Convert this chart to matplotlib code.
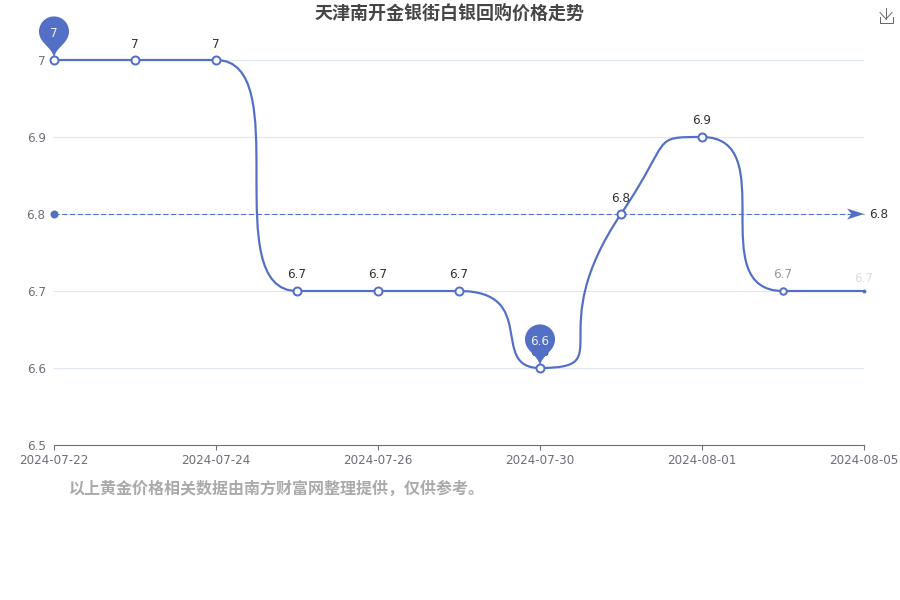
import numpy as np
import matplotlib
matplotlib.use("Agg")
import matplotlib.pyplot as plt
from matplotlib.path import Path
from matplotlib.patches import PathPatch
from matplotlib.lines import Line2D
from matplotlib.transforms import Affine2D, IdentityTransform

title = "天津南开金银街白银回购价格走势"
note = "以上黄金价格相关数据由南方财富网整理提供，仅供参考。"
dates = ["2024-07-22", "2024-07-23", "2024-07-24", "2024-07-25", "2024-07-26", "2024-07-29",
         "2024-07-30", "2024-07-31", "2024-08-01", "2024-08-02", "2024-08-05"]
values = [7, 7, 7, 6.7, 6.7, 6.7, 6.6, 6.8, 6.9, 6.7, 6.7]
y_ticks = [6.5, 6.6, 6.7, 6.8, 6.9, 7]
y_labels = ["6.5", "6.6", "6.7", "6.8", "6.9", "7"]
mean_value = 6.8
label_colors = ["#333333"] * 9 + ["#999999", "#dddddd"]
marker_px = [8, 8, 8, 8, 8, 8, 8, 8, 8, 6.5, 3]

BLUE = "#5470c6"
GREY = "#6e7079"
px = 0.72
plt.rcParams["font.family"] = ["DejaVu Sans", "Noto Sans CJK SC"]

fig = plt.figure(figsize=(9, 6), dpi=100)
ax = fig.add_axes([54 / 900, 155 / 600, 810 / 900, 385 / 600])
ax.set_xlim(0, len(dates) - 1)
ax.set_ylim(6.5, 7)
for s in ("top", "right", "left"):
    ax.spines[s].set_visible(False)
ax.spines["bottom"].set_color(GREY)
ax.spines["bottom"].set_linewidth(0.8)
ax.set_yticks(y_ticks, y_labels)
ax.set_xticks(range(0, len(dates), 2), dates[::2])
ax.tick_params(axis="y", length=0, pad=6, labelsize=12 * px, labelcolor=GREY)
ax.tick_params(axis="x", length=5 * px, width=0.8, color=GREY, pad=3, labelsize=12 * px, labelcolor=GREY)
for v in y_ticks[1:]:
    ax.axhline(v, color="#e0e6f1", lw=0.8, zorder=1)


def smooth_path(pts, smooth=1.0):
    """Same smoothing rule as the source chart library, on pixel positions."""
    n = len(pts)
    verts = [tuple(pts[0])]
    cp0 = pts[0].copy()
    for i in range(1, n):
        p = pts[i]
        prev = pts[i - 1]
        if i + 1 >= n:
            cp1 = p.copy()
            nxt0 = p.copy()
        else:
            nx = pts[i + 1]
            v = nx - prev
            len_prev = np.hypot(*(p - prev))
            len_next = np.hypot(*(nx - p))
            ratio = len_next / (len_next + len_prev)
            nxt0 = p + v * smooth * ratio
            nxt0 = np.maximum(np.minimum(nxt0, np.maximum(nx, p)), np.minimum(nx, p))
            v = nxt0 - p
            cp1 = p - v * len_prev / len_next
            cp1 = np.maximum(np.minimum(cp1, np.maximum(prev, p)), np.minimum(prev, p))
            v = p - cp1
            nxt0 = p + v * len_next / len_prev
        verts += [tuple(cp0), tuple(cp1), tuple(p)]
        cp0 = nxt0
    return verts


xs = np.arange(len(values))
disp = ax.transData.transform(np.column_stack([xs, values]))
verts = smooth_path(disp)
codes = [Path.MOVETO] + [Path.CURVE4] * (len(verts) - 1)
ax.add_patch(PathPatch(Path(verts, codes), transform=IdentityTransform(), fill=False,
                       edgecolor=BLUE, lw=2.2 * px, zorder=3, clip_on=False, capstyle="round"))

# average line
ax.plot([0, len(values) - 1], [mean_value, mean_value], color=BLUE, lw=0.8, ls=(0, (4.5, 2.5)), zorder=2, clip_on=False)
ax.plot([0], [mean_value], "o", color=BLUE, ms=8 * px, mew=0, zorder=3, clip_on=False)
ax_end = ax.transData.transform((len(values) - 1, mean_value))
arrow = Path([(0, 0), (-17, 5.5), (-12.5, 0), (-17, -5.5), (0, 0)],
             [Path.MOVETO, Path.LINETO, Path.LINETO, Path.LINETO, Path.CLOSEPOLY])
ax.add_patch(PathPatch(arrow, transform=Affine2D().translate(*ax_end), facecolor=BLUE, edgecolor="none",
                       zorder=3, clip_on=False))
ax.annotate(f"{mean_value}", (len(values) - 1, mean_value), xytext=(5 * px, 0), textcoords="offset points",
            ha="left", va="center", fontsize=12 * px, color="#333333", annotation_clip=False)

# data labels and point markers
for i, (v, c, m) in enumerate(zip(values, label_colors, marker_px)):
    off = 16 if i < 10 else 13
    ax.annotate(f"{v}", (i, v), xytext=(0, off * px), textcoords="offset points", ha="center", va="center",
                fontsize=12 * px, color=c, zorder=4, annotation_clip=False)
    if m > 4:
        ax.plot([i], [v], "o", mfc="white", mec=BLUE, ms=m * px, mew=2 * px, zorder=5, clip_on=False)
    else:
        ax.plot([i], [v], "o", color=BLUE, ms=m * 1.3 * px, mew=0, zorder=5, clip_on=False)


def pin_path(width=50, height=50):
    w = width / 5 * 3
    h = max(w, height)
    r = w / 2
    dy = r * r / (h - r)
    cy = -h + r + dy          # y grows downward here, tip at the origin
    ang = np.arcsin(dy / r)
    dx = np.cos(ang) * r
    tx, ty = np.sin(ang), np.cos(ang)
    c1, c2 = r * 0.6, r * 0.7
    t = np.linspace(np.pi - ang, 2 * np.pi + ang, 60)
    arc = np.column_stack([r * np.cos(t), cy + r * np.sin(t)])
    p = [tuple(q) for q in arc]
    cd = [Path.MOVETO] + [Path.LINETO] * (len(p) - 1)
    p += [(dx - tx * c1, cy + dy + ty * c1), (0, -c2), (0, 0)]
    cd += [Path.CURVE4] * 3
    p += [(0, -c2), (-dx + tx * c1, cy + dy + ty * c1), (-dx, cy + dy)]
    cd += [Path.CURVE4] * 3
    return Path([(a, -b) for a, b in p], cd)


pin = pin_path()
for idx in (int(np.argmax(values)), int(np.argmin(values))):
    tip = ax.transData.transform((idx, values[idx]))
    ax.add_patch(PathPatch(pin, transform=Affine2D().translate(*tip), facecolor=BLUE, edgecolor="none",
                           zorder=4.5, clip_on=False))
    ax.annotate(f"{values[idx]}", (idx, values[idx]), xytext=(0, 26.5 * px), textcoords="offset points",
                ha="center", va="center", fontsize=12 * px, color="#eeeeee", zorder=6, annotation_clip=False)

fig.text(449.6 / 900, 1 - 14 / 600, title, ha="center", va="center", fontsize=18 * px, fontweight="bold",
         color="#464646", family=["Noto Sans CJK SC", "DejaVu Sans"])
fig.text(69 / 900, 1 - 489 / 600, note, ha="left", va="center", fontsize=16 * px, fontweight="bold",
         color="#aaaaaa", family=["Noto Sans CJK SC", "DejaVu Sans"])

# save-image icon
icon_kw = dict(color="#666666", lw=0.7, transform=IdentityTransform())
for seg in ([(886, 8), (886, 19)], [(880, 12.5), (886, 19), (892, 12.5)], [(879.5, 17), (879.5, 22.5), (893, 22.5), (893, 17)]):
    a = np.array(seg)
    fig.add_artist(Line2D(a[:, 0], 600 - a[:, 1], **icon_kw))

fig.savefig("out.png", dpi=100)
